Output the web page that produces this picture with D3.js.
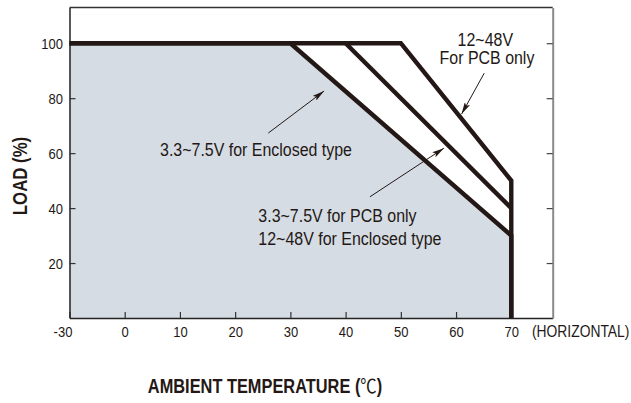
<!DOCTYPE html>
<html>
<head>
<meta charset="utf-8">
<script src="https://cdn.jsdelivr.net/npm/d3@7"></script>
<style>
  body { margin: 0; background: #fff; }
  svg { display: block; }
  text { font-family: "Liberation Sans", Arial, sans-serif; }
</style>
</head>
<body>
<svg id="chart" width="631" height="403"></svg>
<script>
// derating curves, temperature (C) vs load (%)
var xTicks = [-30, 0, 10, 20, 30, 40, 50, 60, 70];
var yTicks = [20, 40, 60, 80, 100];

var curveOuter = [[-30, 100], [50, 100], [70, 50], [70, 0]];   // 12~48V PCB
var curveMiddle = [[40, 100], [70, 40]];                         // 3.3~7.5V PCB / 12~48V enclosed
var curveInner = [[-30, 100], [30, 100], [70, 30], [70, 0]];    // 3.3~7.5V enclosed

// labels: [text, x, y, anchor]
var labels = [
  ["3.3~7.5V for Enclosed type", 6.4, 59.0, "start"],
  ["12~48V", 65.3, 99.0, "middle"],
  ["For PCB only", 65.6, 92.3, "middle"],
  ["3.3~7.5V for PCB only", 24.2, 35.1, "start"],
  ["12~48V for Enclosed type", 24.2, 26.6, "start"]
];
// arrows: [fromX, fromY, toX, toY]
var arrows = [
  [26.0, 67.3, 36.1, 82.6],
  [65.1, 89.1, 61.0, 74.2],
  [44.4, 44.1, 57.8, 61.8]
];

var ink = "#231815";
var squeeze = 0.84;   // the source font is a condensed face
var svg = d3.select("#chart");
var mLeft = 69.5, mRight = 552.7, mTop = 7.5, mBottom = 318;

// -30 sits one step left of 0 (broken axis)
var x = d3.scaleLinear().domain([-30, 0, 77.5]).range([mLeft, 124.7, mRight]);
var y = d3.scaleLinear().domain([0, 113]).range([mBottom, mTop]);

var area = d3.area()
    .x(function(d) { return x(d[0]); })
    .y0(y(0))
    .y1(function(d) { return y(d[1]); });

svg.append("path")
    .datum(curveInner)
    .attr("d", area)
    .attr("fill", "#d6dce4");

// frame
svg.append("line")
    .attr("x1", mLeft).attr("x2", mRight).attr("y1", mTop).attr("y2", mTop)
    .attr("stroke", "#333").attr("stroke-width", 1.3);

var xAxis = svg.append("g")
    .attr("transform", "translate(0," + mBottom + ")")
    .call(d3.axisBottom(x).tickValues(xTicks).tickFormat(String)
      .tickSizeInner(-6).tickSizeOuter(0).tickPadding(8));
xAxis.select(".domain").attr("stroke", "#222").attr("stroke-width", 1.5);
xAxis.selectAll(".tick line").attr("stroke", "#333").attr("stroke-width", 1.2);
xAxis.selectAll(".tick text")
    .attr("font-size", "15.5px").attr("fill", ink)
    .attr("transform", "scale(" + squeeze + ",1)")
    .attr("x", function(d) { return (d < 0 ? -7 : 0) / squeeze; });

var yAxis = svg.append("g")
    .attr("transform", "translate(" + mLeft + ",0)")
    .call(d3.axisLeft(y).tickValues(yTicks).tickFormat(String)
      .tickSizeInner(-6).tickSizeOuter(0).tickPadding(6.5));
yAxis.select(".domain").attr("stroke", "#222").attr("stroke-width", 1.5);
yAxis.selectAll(".tick line").attr("stroke", "#333").attr("stroke-width", 1.2);
yAxis.selectAll(".tick text")
    .attr("font-size", "15.5px").attr("fill", ink)
    .attr("transform", "scale(" + squeeze + ",1)")
    .attr("x", -6.5 / squeeze);

var yRight = svg.append("g")
    .attr("transform", "translate(" + mRight + ",0)")
    .call(d3.axisRight(y).tickValues(yTicks).tickSizeInner(-6).tickSizeOuter(0).tickFormat(""));
yRight.select(".domain").attr("stroke", "#8a8a8a").attr("stroke-width", 2);
yRight.selectAll(".tick line").attr("stroke", "#444").attr("stroke-width", 1.2);

svg.append("text")
    .attr("transform", "translate(532,337) scale(" + squeeze + ",1)")
    .attr("font-size", "16.5px")
    .attr("fill", ink)
    .text("(HORIZONTAL)");

// curves
var line = d3.line()
    .x(function(d) { return x(d[0]); })
    .y(function(d) { return y(d[1]); });

svg.selectAll(".curve")
    .data([curveInner, curveMiddle, curveOuter])
    .enter().append("path")
    .attr("class", "curve")
    .attr("d", line)
    .attr("fill", "none")
    .attr("stroke", ink)
    .attr("stroke-width", 4.4)
    .attr("stroke-linejoin", "miter");

// arrows
svg.append("defs").append("marker")
    .attr("id", "head")
    .attr("viewBox", "0 0 12 6")
    .attr("refX", 12).attr("refY", 3)
    .attr("markerWidth", 12).attr("markerHeight", 6)
    .attr("markerUnits", "userSpaceOnUse")
    .attr("orient", "auto")
  .append("path")
    .attr("d", "M0,0L12,3L0,6L2.5,3Z")
    .attr("fill", ink);

svg.selectAll(".arrow")
    .data(arrows)
    .enter().append("line")
    .attr("class", "arrow")
    .attr("x1", function(d) { return x(d[0]); })
    .attr("y1", function(d) { return y(d[1]); })
    .attr("x2", function(d) { return x(d[2]); })
    .attr("y2", function(d) { return y(d[3]); })
    .attr("stroke", ink)
    .attr("stroke-width", 1)
    .attr("marker-end", "url(#head)");

svg.selectAll(".label")
    .data(labels)
    .enter().append("text")
    .attr("class", "label")
    .attr("transform", function(d) {
      return "translate(" + x(d[1]) + "," + y(d[2]) + ") scale(" + squeeze + ",1)";
    })
    .attr("text-anchor", function(d) { return d[3]; })
    .attr("font-size", "19px")
    .attr("fill", ink)
    .text(function(d) { return d[0]; });

// axis titles
svg.append("text")
    .attr("transform", "translate(27,176) rotate(-90) scale(" + squeeze + ",1)")
    .attr("text-anchor", "middle")
    .attr("font-size", "20px")
    .attr("font-weight", "bold")
    .attr("fill", ink)
    .text("LOAD (%)");

var xt = svg.append("text")
    .attr("transform", "translate(265,393) scale(" + squeeze + ",1)")
    .attr("text-anchor", "middle")
    .attr("font-size", "19.5px")
    .attr("font-weight", "bold")
    .attr("fill", ink);
xt.append("tspan").text("AMBIENT TEMPERATURE (");
xt.append("tspan").attr("font-weight", "normal")
    .style("font-family", "'Noto Sans CJK SC', sans-serif").text("℃");
xt.append("tspan").text(")");
</script>
</body>
</html>
